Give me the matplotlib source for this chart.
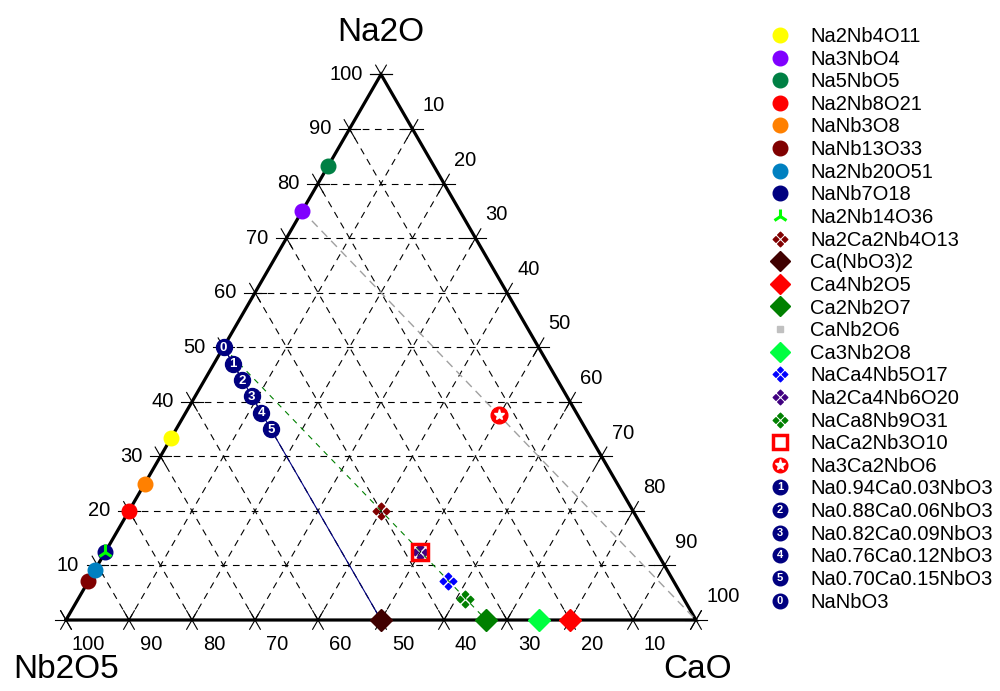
import numpy as np
import matplotlib
matplotlib.use('Agg')
import matplotlib.pyplot as plt
import matplotlib.text as mtext
from matplotlib.path import Path
from matplotlib.legend_handler import HandlerLine2D

plt.rcParams['font.family'] = ['Liberation Sans', 'DejaVu Sans']

# compositions, mol% (Na2O, Nb2O5, CaO)
phases = ['Na2Nb4O11', 'Na3NbO4', 'Na5NbO5', 'Na2Nb8O21', 'NaNb3O8',
          'NaNb13O33', 'Na2Nb20O51', 'NaNb7O18', 'Na2Nb14O36', 'Na2Ca2Nb4O13',
          'Ca(NbO3)2', 'Ca4Nb2O5', 'Ca2Nb2O7', 'CaNb2O6', 'Ca3Nb2O8',
          'NaCa4Nb5O17', 'Na2Ca4Nb6O20', 'NaCa8Nb9O31', 'NaCa2Nb3O10', 'Na3Ca2NbO6']
na2o = [33.3, 75.0, 83.3, 20.0, 25.0, 7.1, 9.1, 12.5, 12.5, 20.0,
        0.0, 0.0, 0.0, 0.0, 0.0, 7.1, 12.5, 3.8, 12.5, 37.5]
nb2o5 = [66.7, 25.0, 16.7, 80.0, 75.0, 92.9, 90.9, 87.5, 87.5, 40.0,
         50.0, 20.0, 33.3, 50.0, 25.0, 35.7, 37.5, 34.6, 37.5, 12.5]
cao = [0.0, 0.0, 0.0, 0.0, 0.0, 0.0, 0.0, 0.0, 0.0, 40.0,
       50.0, 80.0, 66.7, 50.0, 75.0, 57.1, 50.0, 61.5, 50.0, 50.0]

# Na(1-2x)CaxNbO3 series
ss_names = ['Na0.94Ca0.03NbO3', 'Na0.88Ca0.06NbO3', 'Na0.82Ca0.09NbO3',
            'Na0.76Ca0.12NbO3', 'Na0.70Ca0.15NbO3', 'NaNbO3']
ss_nums = ['1', '2', '3', '4', '5', '0']
ss_na2o = [47.0, 44.0, 41.0, 38.0, 35.0, 50.0]
ss_nb2o5 = [50.0, 50.0, 50.0, 50.0, 50.0, 50.0]
ss_cao = [3.0, 6.0, 9.0, 12.0, 15.0, 0.0]

# tie lines: (Na2O start, Na2O end), (CaO start, CaO end)
tie_na2o = [(50.0, 0.0), (50.0, 0.0), (75.0, 0.0)]
tie_cao = [(0.0, 50.0), (0.0, 66.7), (0.0, 100.0)]

ticks = [0, 10, 20, 30, 40, 50, 60, 70, 80, 90, 100]
tick_labels = ['', '10', '20', '30', '40', '50', '60', '70', '80', '90', '100']

H = np.sqrt(3) / 2


def tern(na, ca):
    na = np.asarray(na, float)
    ca = np.asarray(ca, float)
    return ca + na / 2, na * H


def quad_diamond():
    verts, codes = [], []
    s = 0.62
    for cx, cy in [(0, 1), (1, 0), (0, -1), (-1, 0)]:
        verts += [(cx, cy + s), (cx + s, cy), (cx, cy - s), (cx - s, cy), (cx, cy + s)]
        codes += [Path.MOVETO, Path.LINETO, Path.LINETO, Path.LINETO, Path.CLOSEPOLY]
    return Path(verts, codes)


QD = quad_diamond()

styles = {
    'Na2Nb4O11': dict(marker='o', color='#ffff00', ms=10.5),
    'Na3NbO4': dict(marker='o', color='#8000ff', ms=10.5),
    'Na5NbO5': dict(marker='o', color='#008044', ms=10.5),
    'Na2Nb8O21': dict(marker='o', color='#ff0000', ms=10.5),
    'NaNb3O8': dict(marker='o', color='#ff8000', ms=10.5),
    'NaNb13O33': dict(marker='o', color='#800000', ms=10.5),
    'Na2Nb20O51': dict(marker='o', color='#0080c0', ms=10.5),
    'NaNb7O18': dict(marker='o', color='#000080', ms=10.5),
    'Na2Nb14O36': dict(marker='2', color='#00ff00', ms=11, mew=2.2),
    'Na2Ca2Nb4O13': dict(marker=QD, color='#800000', ms=12),
    'Ca(NbO3)2': dict(marker='D', color='#400000', ms=11),
    'Ca4Nb2O5': dict(marker='D', color='#ff0000', ms=11),
    'Ca2Nb2O7': dict(marker='D', color='#008000', ms=11),
    'CaNb2O6': dict(marker='s', color='#c0c0c0', ms=4),
    'Ca3Nb2O8': dict(marker='D', color='#00ff40', ms=11),
    'NaCa4Nb5O17': dict(marker=QD, color='#0000ff', ms=12),
    'Na2Ca4Nb6O20': dict(marker=QD, color='#400080', ms=12),
    'NaCa8Nb9O31': dict(marker=QD, color='#008000', ms=12),
    'NaCa2Nb3O10': dict(marker='s', color='#ff0000', ms=12, mfc='none', mew=2.5),
    'Na3Ca2NbO6': dict(marker='o', color='#ff0000', ms=12),
}

fig = plt.figure(figsize=(10, 6.91), dpi=100)
ax = fig.add_axes([0, 0, 1, 1])
ax.set_xlim(-66 / 6.3, (1000 - 66) / 6.3)
ax.set_ylim(-71 / 6.3, 620 / 6.3)
ax.axis('off')

# grid
for k in ticks[1:-1]:
    for a, b in [((k, 0), (k, 100 - k)), ((0, k), (100 - k, k)), ((0, 100 - k), (100 - k, 0))]:
        xs, ys = tern([a[0], b[0]], [a[1], b[1]])
        ax.plot(xs, ys, color='black', lw=0.8, ls=(0, (6, 5)), zorder=1)

# tick crosses
L = 1.7
d_h = np.array([1.0, 0.0])
d_ur = np.array([0.5, H])
d_dr = np.array([0.5, -H])
for k in ticks:
    for p, dirs in [(tern(k, 0), (d_h, d_dr)),
                    (tern(0, 100 - k), (d_ur, d_dr)),
                    (tern(100 - k, k), (d_h, d_ur))]:
        p = np.array(p)
        for d in dirs:
            ax.plot([p[0] - L * d[0], p[0] + L * d[0]], [p[1] - L * d[1], p[1] + L * d[1]],
                    color='black', lw=0.8, zorder=2)

# tick labels
for k, lab in zip(ticks, tick_labels):
    if not lab:
        continue
    x, y = tern(k, 0)
    ax.text(x - 2.9, y, lab, ha='right', va='center', fontsize=14.5)
    x, y = tern(0, 100 - k)
    ax.text(x + 3.5, y - 3.95, lab, ha='center', va='center', fontsize=14.5)
    x, y = tern(100 - k, k)
    ax.text(x + 1.6, y + 3.7, lab, ha='left', va='center', fontsize=14.5)

# triangle
xs, ys = tern([0, 100, 0, 0], [0, 0, 100, 0])
ax.plot(xs, ys, color='black', lw=2.3, zorder=3, solid_joinstyle='miter')

ax.text(50, 93.3, 'Na2O', ha='center', va='center', fontsize=24)
ax.text(0, -7.9, 'Nb2O5', ha='center', va='center', fontsize=24)
ax.text(100.3, -7.9, 'CaO', ha='center', va='center', fontsize=24)

# tie lines
tie_styles = [dict(color='#000080', lw=0.8, ls='-'),
              dict(color='#008000', lw=0.8, ls=(0, (5, 5))),
              dict(color='#a0a0a0', lw=1.0, ls=(0, (6, 4)))]
for tn, tc, st in zip(tie_na2o, tie_cao, tie_styles):
    xs, ys = tern(tn, tc)
    ax.plot(xs, ys, zorder=4, **st)

handles = []
handler_map = {}
for name, n, c in zip(phases, na2o, cao):
    st = dict(styles[name])
    mfc = st.pop('mfc', st['color'])
    x, y = tern(n, c)
    z = 4.5 if name == 'CaNb2O6' else 5
    h, = ax.plot([x], [y], ls='none', marker=st['marker'], ms=st['ms'], color=st['color'],
                 mfc=mfc, mec=st['color'], mew=st.get('mew', 1), zorder=z, label=name)
    if name == 'Na3Ca2NbO6':
        s, = ax.plot([x], [y], ls='none', marker='*', ms=8, color='white', mec='white', zorder=6)
        handles.append((h, s))
    else:
        handles.append(h)


class NumHandler(HandlerLine2D):
    def __init__(self, num, **kw):
        super().__init__(**kw)
        self.num = num

    def create_artists(self, legend, orig_handle, xdescent, ydescent, width, height, fontsize, trans):
        arts = super().create_artists(legend, orig_handle, xdescent, ydescent, width, height, fontsize, trans)
        t = mtext.Text(width / 2 - xdescent, height / 2 - ydescent, self.num, color='white',
                       fontsize=8, fontweight='bold', ha='center', va='center', transform=trans)
        return arts + [t]


ss_handles = []
for name, num, n, c in zip(ss_names, ss_nums, ss_na2o, ss_cao):
    x, y = tern(n, c)
    h, = ax.plot([x], [y], ls='none', marker='o', ms=11.5, color='#000080', zorder=7, label=name)
    ax.text(x, y - 0.1, num, color='white', fontsize=9.5, fontweight='bold', ha='center', va='center', zorder=8)
    handler_map[h] = NumHandler(num)
    ss_handles.append(h)

all_handles = handles + ss_handles
all_labels = phases + ss_names
leg = ax.legend(all_handles, all_labels, loc='upper left', bbox_to_anchor=(0.77, 1 - 27 / 691),
                frameon=False, fontsize=14.5, handlelength=1.0, handletextpad=1.0,
                labelspacing=0.18, borderpad=0, borderaxespad=0, numpoints=1,
                handler_map=handler_map)
for h in leg.legend_handles:
    if hasattr(h, 'set_markersize') and h.get_markersize() > 10.5:
        h.set_markersize(10.5)

fig.savefig('out.png', dpi=100)
